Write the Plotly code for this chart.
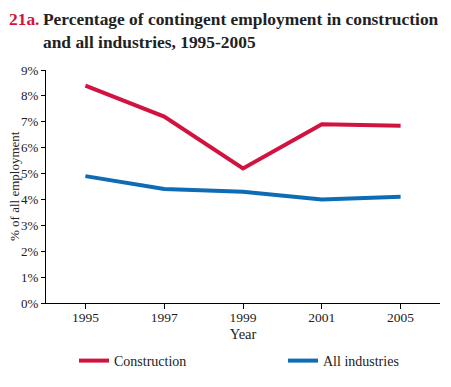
import plotly.graph_objects as go

years = ["1995", "1997", "1999", "2001", "2005"]
construction = [8.4, 7.2, 5.2, 6.9, 6.85]
all_industries = [4.9, 4.4, 4.3, 4.0, 4.1]
y_ticks = [0, 1, 2, 3, 4, 5, 6, 7, 8, 9]
y_labels = [f"{v}%" for v in y_ticks]

RED = "#D21340"
BLUE = "#0E6CB5"
FONT = "Liberation Serif"
TXT = "#222"

# page is offset by the default 8px body margin, so the figure is 8px smaller
W, H = 443, 379
L, T, PW, PH = 38, 62, 394, 233

fig = go.Figure()
fig.add_trace(go.Scatter(x=years, y=construction, name="Construction", mode="lines",
                         line=dict(color=RED, width=4), legend="legend"))
fig.add_trace(go.Scatter(x=years, y=all_industries, name="All industries", mode="lines",
                         line=dict(color=BLUE, width=4), legend="legend2"))

leg_common = dict(orientation="h", yanchor="middle", xanchor="left",
                  font=dict(size=14, family=FONT, color=TXT), bgcolor="rgba(0,0,0,0)")
leg_y = -(353 - (T + PH)) / PH
fig.update_layout(
    width=W, height=H,
    margin=dict(l=L, r=W - L - PW, t=T, b=H - T - PH, autoexpand=False),
    paper_bgcolor="white", plot_bgcolor="white",
    font=dict(family=FONT, size=13, color=TXT),
    showlegend=True,
    legend=dict(x=(66 - L) / PW, y=leg_y, **leg_common),
    legend2=dict(x=(275 - L) / PW, y=leg_y, **leg_common),
    xaxis=dict(type="category", range=[-0.5, 4.5], showline=True, linecolor="black",
               linewidth=1, ticks="outside", ticklen=5, tickcolor="black",
               showgrid=False, automargin=False, ticklabelstandoff=-3,
               tickfont=dict(size=13.5),
               title=dict(text="Year", standoff=4, font=dict(size=14.5))),
    yaxis=dict(range=[0, 9], tickvals=y_ticks, ticktext=y_labels, showline=True,
               linecolor="black", linewidth=1, ticks="outside", ticklen=4,
               tickcolor="black", showgrid=False, zeroline=False, automargin=False,
               tickfont=dict(size=13)),
)

# y-axis title as rotated text in the left margin
fig.add_annotation(xref="paper", yref="paper", x=(6.5 - L) / PW, y=0.5, textangle=-90,
                   xanchor="center", yanchor="middle", showarrow=False, borderpad=0,
                   text="% of all employment", font=dict(family=FONT, size=13, color=TXT))

ty = 1 + (T - 0) / PH
fig.add_annotation(xref="paper", yref="paper", x=(0 - L) / PW, y=ty, borderpad=0,
                   xanchor="left", yanchor="top", showarrow=False, align="left",
                   text="<b>21a.</b>", font=dict(family=FONT, size=17.4, color=RED))
fig.add_annotation(xref="paper", yref="paper", x=(34 - L) / PW, y=ty, borderpad=0,
                   xanchor="left", yanchor="top", showarrow=False, align="left",
                   text="<b>Percentage of contingent employment in construction<br>and all industries, 1995-2005</b>",
                   font=dict(family=FONT, size=17.4, color=TXT))

fig.write_html("out.html")
